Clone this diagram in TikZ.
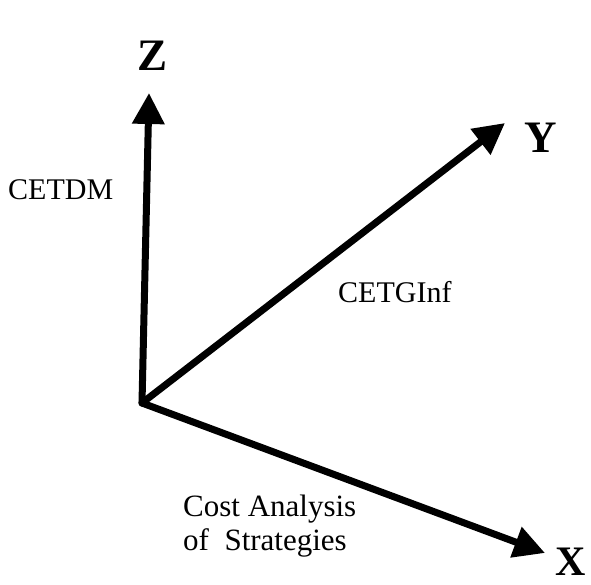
\documentclass[tikz,border=0pt]{standalone}
\usepackage{fontspec}
\setmainfont{Liberation Serif}
\usepackage{tikz}
\usetikzlibrary{arrows.meta}

\begin{document}
\begin{tikzpicture}[
  x=1pt, y=-1pt,
  axis/.style={line width=7pt, line cap=round, -{Triangle[length=31pt, width=31pt]}},
  axisname/.style={inner sep=0pt, font=\fontsize{45}{50}\selectfont\bfseries},
  axislabel/.style={inner sep=0pt, font=\fontsize{30}{33}\selectfont},
]

\useasboundingbox (0, 0) rectangle (591, 585);

\coordinate (O) at (142, 403);
\coordinate (ztip) at (149, 93);
\coordinate (ytip) at (505, 123);
\coordinate (xtip) at (545, 553);

\draw[axis] (O) -- (ztip);
\draw[axis] (O) -- (ytip);
\draw[axis] (O) -- (xtip);

\node[axisname] (zname) at (153, 56) {Z};
\node[axisname] (yname) at (541, 138) {Y};
\node[axisname, font=\fontsize{42}{46}\selectfont\bfseries] (xname) at (571, 562) {X};

\node[axislabel, anchor=west] (cetdm) at (8, 190) {CETDM};
\node[axislabel, anchor=west] (cetginf) at (338, 292) {CETGInf};
\node[axislabel, anchor=north west, align=left, font=\fontsize{31}{34}\selectfont]
  (cost) at (183, 495) {Cost Analysis\\of~~Strategies};

\end{tikzpicture}
\end{document}
